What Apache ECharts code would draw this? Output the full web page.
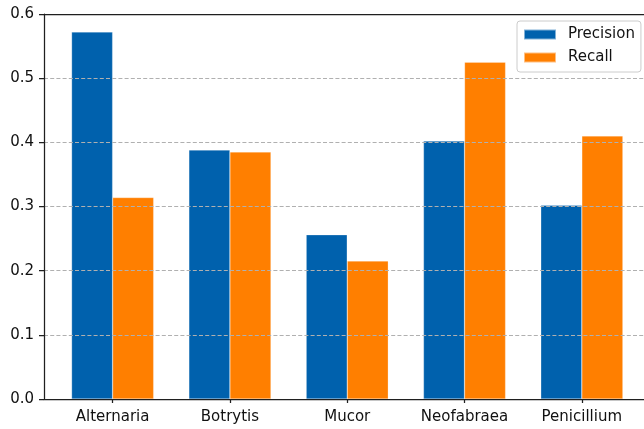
<!DOCTYPE html>
<html>
<head>
<meta charset="utf-8">
<script src="https://cdn.jsdelivr.net/npm/echarts@6/dist/echarts.min.js"></script>
<style>
  html, body { margin: 0; padding: 0; background: #ffffff; overflow: hidden; }
  #chart { width: 644px; height: 429px; }
</style>
</head>
<body>
<div id="chart"></div>
<script>
// Per-genus classification scores
const categories = ['Alternaria', 'Botrytis', 'Mucor', 'Neofabraea', 'Penicillium'];
const precision = [0.572, 0.388, 0.256, 0.402, 0.302];
const recall = [0.314, 0.385, 0.215, 0.525, 0.410];
const yTicks = [0.0, 0.1, 0.2, 0.3, 0.4, 0.5, 0.6];

const positions = categories.map((_, i) => i);
const toPairs = vals => vals.map((v, i) => [i, v]);

const font = 'DejaVu Sans';
const axisColor = '#1f1f1f';
const textColor = '#111111';

// x range: the frame is cropped on the right, so the visible span stops short of the full margin
const xMin = -0.585;
const xMax = 4.53;

const chart = echarts.init(document.getElementById('chart'), null, { renderer: 'canvas' });
chart.setOption({
  animation: false,
  backgroundColor: '#ffffff',
  grid: { left: 44, top: 14, right: 0, bottom: 30, show: false },
  legend: {
    orient: 'vertical',
    left: 517, top: 21,
    padding: [6, 6, 7, 6],
    itemWidth: 32, itemHeight: 10,
    itemGap: 8,
    icon: 'rect',
    backgroundColor: 'rgba(255,255,255,0.85)',
    borderColor: '#cccccc', borderWidth: 1, borderRadius: 3,
    textStyle: { fontFamily: font, fontSize: 15, color: textColor, lineHeight: 15, padding: [0, 0, 0, 7] },
    data: ['Precision', 'Recall']
  },
  xAxis: [
    {
      type: 'value', position: 'bottom', z: 4,
      min: xMin, max: xMax,
      axisLine: { show: true, onZero: false, lineStyle: { color: axisColor, width: 1.25 } },
      axisTick: { show: true, length: 4, customValues: positions, lineStyle: { color: axisColor, width: 1.25 } },
      axisLabel: {
        customValues: positions,
        formatter: v => categories[Math.round(v)] || '',
        fontFamily: font, fontSize: 15, color: textColor, margin: 11
      },
      splitLine: { show: false }
    },
    {
      // top frame line
      type: 'value', position: 'top', z: 4,
      min: xMin, max: xMax,
      axisLine: { show: true, onZero: false, lineStyle: { color: axisColor, width: 1.25 } },
      axisTick: { show: false },
      axisLabel: { show: false },
      splitLine: { show: false }
    }
  ],
  yAxis: {
    type: 'value',
    min: 0, max: 0.6, interval: 0.1,
    z: 3,
    axisLine: { show: true, onZero: false, lineStyle: { color: axisColor, width: 1.25 } },
    axisTick: { show: true, length: 5, lineStyle: { color: axisColor, width: 1.25 } },
    axisLabel: {
      formatter: v => {
        const t = yTicks.find(x => Math.abs(x - v) < 1e-9);
        return (t === undefined ? v : t).toFixed(1);
      },
      fontFamily: font, fontSize: 15, color: textColor, margin: 10
    },
    splitLine: {
      show: true,
      lineStyle: { color: '#b0b0b0', width: 1.2, type: [4, 2.2] }
    }
  },
  series: [
    {
      name: 'Precision', type: 'bar', xAxisIndex: 0,
      data: toPairs(precision),
      barWidth: '35%', barGap: '0%',
      itemStyle: { color: '#0061ad', borderColor: 'rgba(255,255,255,0.5)', borderWidth: 0.5 }
    },
    {
      name: 'Recall', type: 'bar', xAxisIndex: 0,
      data: toPairs(recall),
      barWidth: '35%', barGap: '0%',
      itemStyle: { color: '#ff7f00', borderColor: 'rgba(255,255,255,0.5)', borderWidth: 0.5 }
    }
  ]
});
</script>
</body>
</html>
